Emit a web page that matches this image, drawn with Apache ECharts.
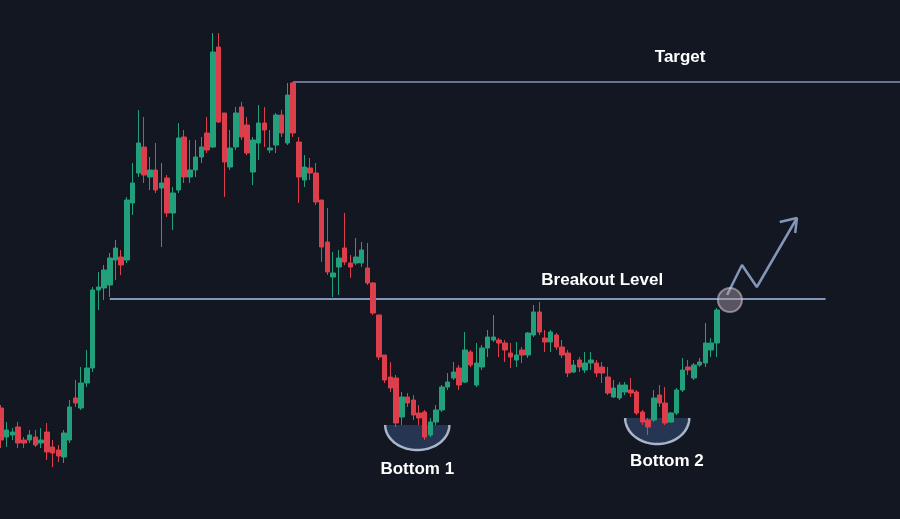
<!DOCTYPE html>
<html>
<head>
<meta charset="utf-8">
<style>
html,body{margin:0;padding:0;background:#131722;}
#chart{width:900px;height:519px;}
</style>
<script src="https://cdn.jsdelivr.net/npm/echarts@6/dist/echarts.min.js"></script>
</head>
<body>
<div id="chart"></div>
<script>
// Number of bar slots across the chart (candles + empty space on the right)
var slotCount = 158;
var categories = Array.from({length: slotCount}, function(_, i){ return 'D' + (i + 1); });

// Candles: [open, close, low, high]
var candles = [
[111,79,71,114],[82,89,72,97],[84,87,79,91],[92,76,71,97],[79,76,71,82],
[79,84,76,89],[82,74,72,89],[76,79,71,91],[87,67,59,96],[72,66,52,79],
[69,63,57,74],[62,86,56,89],[79,112,76,119],[121,116,112,139],[111,136,109,152],
[136,151,132,169],[151,229,147,232],[229,232,209,247],[231,249,219,254],[234,261,222,266],
[259,271,239,279],[262,254,244,269],[259,319,256,322],[316,336,304,356],[346,376,342,409],
[372,344,336,402],[342,349,329,362],[349,329,326,376],[331,336,272,356],[341,306,302,344],
[306,326,289,332],[329,381,326,396],[382,342,336,389],[342,349,336,379],[349,362,342,379],
[362,372,356,382],[386,369,366,402],[372,467,371,486],[472,397,396,486],[406,357,322,406],
[352,371,349,389],[372,406,369,412],[412,382,379,417],[394,366,364,402],[347,379,334,382],
[376,396,359,414],[396,389,372,412],[369,371,366,389],[374,404,366,406],[404,386,382,409],
[376,424,374,436],[436,386,382,437],[377,342,316,382],[339,352,332,364],[351,346,339,361],
[346,317,314,356],[319,272,257,319],[277,247,244,311],[242,246,222,267],[252,261,224,269],
[271,257,254,306],[256,252,241,264],[256,262,254,281],[256,269,252,277],[251,236,234,276],
[236,206,204,237],[204,162,159,204],[164,139,136,164],[142,131,127,157],[141,96,92,144],
[102,122,94,127],[122,116,112,126],[119,104,99,124],[106,101,94,114],[107,82,79,109],
[84,97,82,101],[97,109,94,114],[109,132,107,134],[132,137,129,146],[141,147,139,157],
[151,134,129,154],[137,169,136,187],[167,154,152,169],[134,156,132,176],[152,171,149,174],
[171,182,162,189],[179,182,177,204],[179,176,162,181],[176,169,157,179],[166,162,151,176],
[159,164,152,177],[169,164,156,172],[164,186,161,187],[184,207,182,214],[207,187,184,217],
[181,177,167,189],[177,187,167,189],[184,172,169,186],[172,164,161,179],[166,146,142,169],
[147,154,146,159],[159,152,147,162],[149,156,146,167],[156,159,149,167],[156,146,142,159],
[152,146,136,157],[142,126,124,152],[122,131,121,139],[121,134,119,137],[127,134,124,137],
[129,126,122,141],[127,106,104,129],[107,97,94,109],[99,92,84,101],[99,121,97,129],
[124,116,112,134],[116,96,94,132],[97,106,96,107],[106,129,104,131],[129,149,127,161],
[152,149,144,159],[141,154,139,156],[154,157,152,161],[156,176,152,196],[169,176,162,181],
[176,209,162,211]
];

// Horizontal levels: [startSlot, endSlot, price]
var targetLevel = [51, 157, 437];
var breakoutLevel = [19, 144, 220];

// Projected path arrow: [slot, price]
var arrowPath = [[126.8,224],[129.4,254],[132.0,232],[139.0,301]];
var arrowHead = [[136.0,297],[139.0,301],[138.7,286]];

// Breakout point marker
var breakoutPoint = [[127.3, 219]];

// Bottom bowls: [centerSlot, rimPrice, halfWidthSlots, depthPrice]
var bottoms = [[72.7, 94, 5.6, 25], [114.6, 101, 5.6, 26]];

// Text annotations
var labelNames = ['Target', 'Breakout Level', 'Bottom 1', 'Bottom 2'];
var labelPositions = [[118.6, 462], [105.0, 239], [72.7, 50], [116.3, 58]];

var GREEN = '#22a07c', RED = '#dc3f4b', LINE = '#8296b8';

var chart = echarts.init(document.getElementById('chart'));
chart.setOption({
  backgroundColor: '#131722',
  animation: false,
  grid: {left: 1, right: 0, top: 0, bottom: 0},
  xAxis: [
    {type: 'category', data: categories, boundaryGap: false, show: false},
    {type: 'value', min: 0, max: slotCount - 1, show: false}
  ],
  yAxis: {type: 'value', min: 0, max: 519, show: false},
  series: [
    {
      type: 'custom',
      xAxisIndex: 1,
      z: 1,
      data: bottoms,
      renderItem: function(params, api){
        var c = api.coord([api.value(0), api.value(1)]);
        var e = api.coord([api.value(0) + api.value(2), api.value(1) - api.value(3)]);
        var rx = e[0] - c[0], ry = e[1] - c[1];
        var pts = [];
        for (var k = 0; k <= 48; k++) {
          var t = Math.PI * k / 48;
          pts.push([c[0] + rx * Math.cos(t), c[1] + ry * Math.sin(t)]);
        }
        return {type: 'group', children: [
          {type: 'polygon', shape: {points: pts}, style: {fill: 'rgba(55,78,120,0.55)'}},
          {type: 'polyline', shape: {points: pts}, style: {stroke: '#a9b6ca', lineWidth: 2.5, fill: null}}
        ]};
      }
    },
    {
      type: 'line', xAxisIndex: 1, z: 2, symbol: 'none',
      data: [[targetLevel[0], targetLevel[2]], [targetLevel[1], targetLevel[2]]],
      lineStyle: {color: LINE, width: 1.5}
    },
    {
      type: 'line', xAxisIndex: 1, z: 2, symbol: 'none',
      data: [[breakoutLevel[0], breakoutLevel[2]], [breakoutLevel[1], breakoutLevel[2]]],
      lineStyle: {color: LINE, width: 2}
    },
    {
      type: 'candlestick',
      xAxisIndex: 0,
      z: 3,
      data: candles,
      barWidth: 5,
      itemStyle: {color: GREEN, color0: RED, borderColor: GREEN, borderColor0: RED, borderWidth: 1}
    },
    {
      type: 'line', xAxisIndex: 1, z: 4, symbol: 'none',
      data: arrowPath,
      lineStyle: {color: LINE, width: 2.5}
    },
    {
      type: 'line', xAxisIndex: 1, z: 4, symbol: 'none',
      data: arrowHead,
      lineStyle: {color: LINE, width: 2.5}
    },
    {
      type: 'scatter', xAxisIndex: 1, z: 5,
      data: breakoutPoint,
      symbolSize: 24,
      itemStyle: {opacity: 1, color: 'rgba(175,160,170,0.45)', borderColor: 'rgba(210,205,215,0.55)', borderWidth: 2}
    },
    {
      type: 'scatter', xAxisIndex: 1, z: 6,
      symbolSize: 1,
      itemStyle: {opacity: 1, color: 'rgba(0,0,0,0)'},
      data: labelPositions.map(function(p, i){ return {name: labelNames[i], value: p}; }),
      label: {
        show: true, position: 'inside', formatter: '{b}', opacity: 1,
        color: '#ffffff', fontSize: 17, fontWeight: 'bold', fontFamily: 'Liberation Sans, Arial, sans-serif'
      }
    }
  ]
});
</script>
</body>
</html>
